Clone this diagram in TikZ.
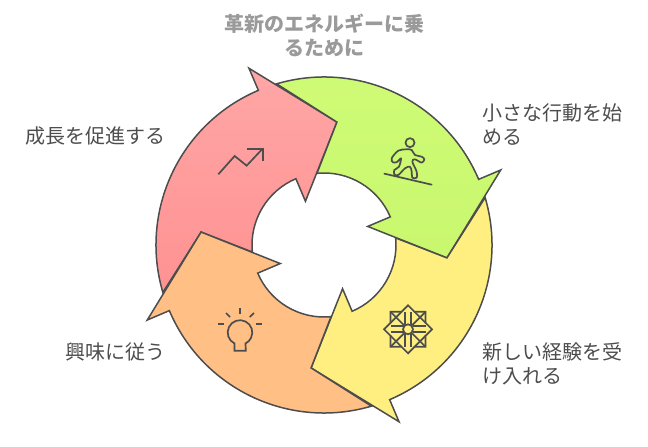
\documentclass[tikz,border=0pt]{standalone}
\usepackage{fontspec}
\setmainfont{Noto Sans CJK JP}
\usetikzlibrary{calc}
\definecolor{ink}{HTML}{4D4D4D}
\definecolor{titlegray}{HTML}{9A9A9A}
\definecolor{redtop}{HTML}{FFA6A6}
\definecolor{redmid}{HTML}{FFA4A4}
\definecolor{redbot}{HTML}{FF9292}
\definecolor{greentop}{HTML}{CFFB76}
\definecolor{greenbot}{HTML}{C9F76E}
\definecolor{yellowfill}{HTML}{FFEE80}
\definecolor{orangefill}{HTML}{FFBF85}
\tikzset{
  arrowshape/.style={draw=ink,line width=1.5pt,line join=miter,miter limit=10},
  iconline/.style={draw=ink,line width=1.7pt,line cap=round,line join=round},
  label/.style={text=ink,font=\fontsize{20}{24}\selectfont,inner sep=0pt,align=left},
  titlelabel/.style={text=titlegray,font=\bfseries\fontsize{20}{24}\selectfont,inner sep=0pt,align=center},
}
\newcommand{\cyclearrow}[2]{%
  \path[arrowshape,#2] ($(c)+(#1:192)$) -- ($(c)+(#1:168)$)
    arc[start angle=#1,delta angle=83.4,radius=168]
    -- ($(c)+(#1+61:123.6)$) -- ($(c)+(#1+72.6:72)$)
    arc[start angle=#1+72.6,delta angle=-72.6,radius=72]
    -- ($(c)+(#1:47.5)$) -- ($(c)+(#1-29:123.6)$) -- cycle;}
\begin{document}
\begin{tikzpicture}[x=1pt,y=1pt]
\useasboundingbox (0,0) rectangle (648,447);
\coordinate (c) at (324,202);
\cyclearrow{113}{top color=redtop,middle color=redmid,bottom color=redbot}
\cyclearrow{23}{top color=greentop,bottom color=greenbot}
\cyclearrow{-67}{fill=yellowfill}
\cyclearrow{-157}{fill=orangefill}
\node[titlelabel] (title) at (324,412) {革新のエネルギーに乗\\るために};
\node[label,anchor=west] (l1) at (482,322) {小さな行動を始\\める};
\node[label,anchor=west] (l2) at (482,83) {新しい経験を受\\け入れる};
\node[label,anchor=east] (l3) at (166,311) {成長を促進する};
\node[label,anchor=east] (l4) at (166,95) {興味に従う};
% chart icon
\begin{scope}[shift={(140,387)},x=0.3333pt,y=-0.3333pt]
\draw[iconline,line cap=butt,line join=miter] (235,343) -- (284,288) -- (320,317) -- (368,266);
\draw[iconline,line cap=butt,line join=miter] (322,266) -- (368,266) -- (368,304);
\end{scope}
% snowboarder icon
\begin{scope}[shift={(375,317)},x=0.3333pt,y=-0.3333pt]
\draw[iconline] (105,38) circle[radius=4.5pt];
\draw[iconline] (28,131) -- (170,164);
\draw[iconline] plot[smooth cycle,tension=0.55] coordinates {(95,58) (70,62) (50,85) (54,97) (66,96) (78,85) (72,110) (58,120) (58,133) (70,135) (90,115) (105,110) (110,125) (112,143) (125,143) (125,125) (112,95) (120,88) (140,98) (148,88) (140,80) (120,75) (110,60)};
\end{scope}
% ornament icon
\begin{scope}[shift={(408,117.7)}]
\foreach \a in {0,90,180,270} {
  \begin{scope}[rotate=\a]
  \draw[iconline,line join=miter] (17.5,6.5) -- (24,0) -- (17.5,-6.5) -- (17.5,-17.5) -- (6.5,-17.5);
  \draw[iconline,line cap=butt] (4.5,3) -- (17.5,3);
  \draw[iconline,line cap=butt] (4.5,-3) -- (17.5,-3);
  \draw[iconline,line cap=butt] (4,-4) -- (17.5,-17.5);
  \draw[iconline,line cap=butt] (17.5,-6.5) -- (12,-12);
  \draw[iconline,line cap=butt] (6.5,-17.5) -- (12,-12);
  \end{scope}
}
\draw[iconline,line join=miter] (0,0) circle[radius=5pt];
\end{scope}
% bulb icon
\draw[iconline,line join=miter] (234.5,96.3) -- (234.5,103.5) arc[start angle=243.5,delta angle=-307,radius=12.3pt] -- (245.8,96.3) -- cycle;
\draw[iconline,line cap=butt] (240,139) -- (240,133);
\draw[iconline,line cap=butt] (226,134) -- (230,130);
\draw[iconline,line cap=butt] (254,134) -- (249.7,130);
\draw[iconline,line cap=butt] (218,123.3) -- (223.7,123.3);
\draw[iconline,line cap=butt] (256,123.3) -- (262,123.3);
\end{tikzpicture}
\end{document}
